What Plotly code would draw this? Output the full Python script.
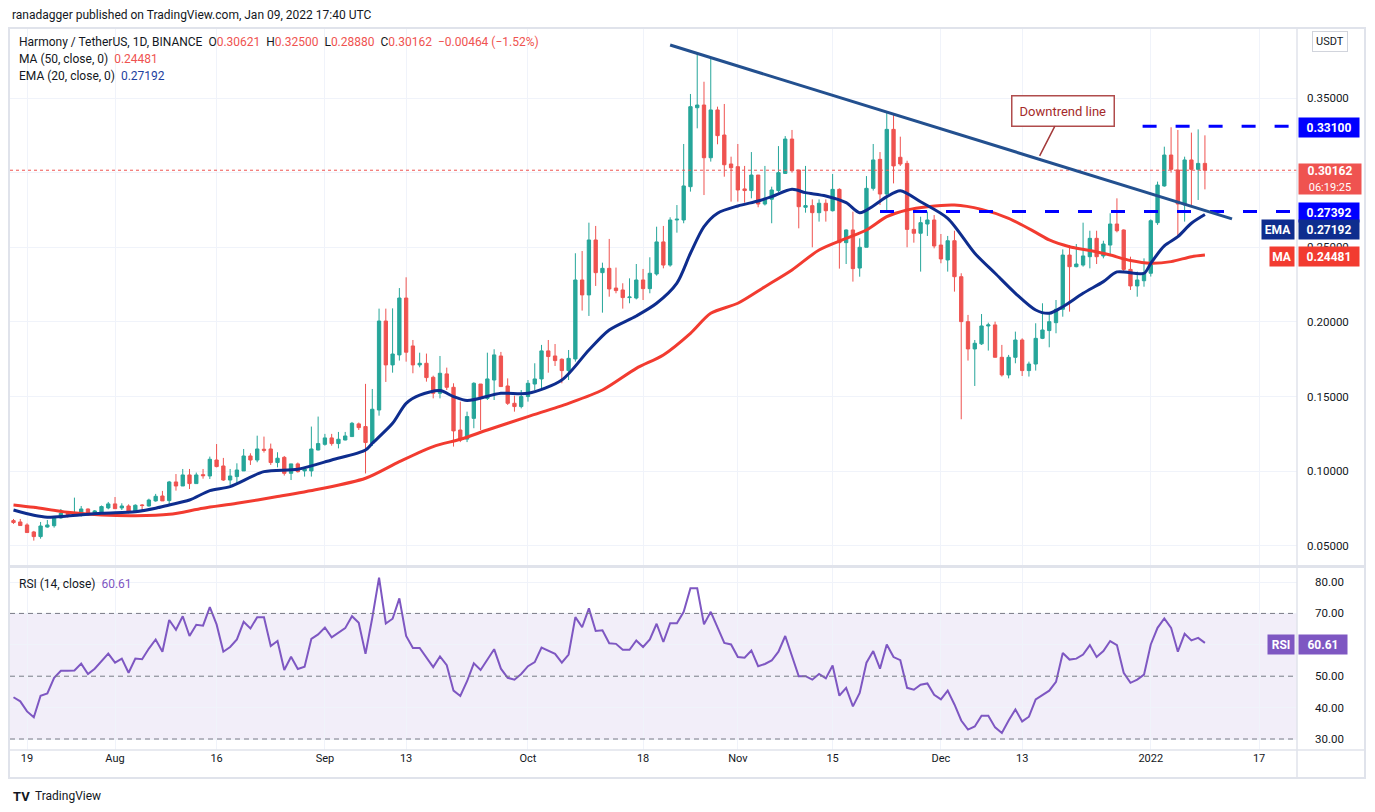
import pandas as pd
import plotly.graph_objects as go

# ONE/USDT daily candles, 17 Jul 2021 -> 9 Jan 2022
dates = pd.date_range("2021-07-17", periods=177, freq="D")

opens = [0.0669, 0.0660, 0.0640, 0.0593, 0.0562, 0.0626, 0.0635, 0.0687, 0.0716, 0.0710,
         0.0711, 0.0747, 0.0707, 0.0727, 0.0754, 0.0781, 0.0754, 0.0767, 0.0727, 0.0774,
         0.0767, 0.0801, 0.0834, 0.0803, 0.0928, 0.0901, 0.0975, 0.0917, 0.0977, 0.0968,
         0.1075, 0.1035, 0.0941, 0.0964, 0.1002, 0.1102, 0.1075, 0.1147, 0.1149, 0.1058,
         0.1093, 0.0986, 0.1049, 0.1002, 0.1002, 0.1142, 0.1180, 0.1223, 0.1185, 0.1209,
         0.1232, 0.1317, 0.1299, 0.1187, 0.1410, 0.2006, 0.1712, 0.1779, 0.2160, 0.1839,
         0.1712, 0.1723, 0.1629, 0.1522, 0.1652, 0.1562, 0.1276, 0.1215, 0.1354, 0.1584,
         0.1488, 0.1611, 0.1772, 0.1571, 0.1455, 0.1433, 0.1500, 0.1584, 0.1618, 0.1806,
         0.1772, 0.1750, 0.1674, 0.1752, 0.2281, 0.2181, 0.2549, 0.2330, 0.2359, 0.2227,
         0.2214, 0.2163, 0.2160, 0.2281, 0.2223, 0.2321, 0.2536, 0.2381, 0.2683, 0.2683,
         0.2906, 0.3435, 0.3453, 0.3100, 0.3420, 0.3252, 0.3058, 0.3040, 0.2891, 0.2880,
         0.2984, 0.2790, 0.2822, 0.2880, 0.2995, 0.3225, 0.3018, 0.2768, 0.2779, 0.2732,
         0.2795, 0.2745, 0.2888, 0.2531, 0.2616, 0.2361, 0.2500, 0.2895, 0.3089, 0.2857,
         0.3290, 0.3103, 0.3062, 0.2620, 0.2594, 0.2656, 0.2683, 0.2515, 0.2415, 0.2544,
         0.2303, 0.2002, 0.1819, 0.1853, 0.1973, 0.1980, 0.1763, 0.1645, 0.1763, 0.1879,
         0.1674, 0.1718, 0.1890, 0.1942, 0.1995, 0.2085, 0.2448, 0.2370, 0.2381, 0.2437,
         0.2560, 0.2442, 0.2515, 0.2656, 0.2616, 0.2352, 0.2241, 0.2276, 0.2326, 0.2665,
         0.2911, 0.3118, 0.3018, 0.2784, 0.3085, 0.3022, 0.30621]
highs = [0.0680, 0.0680, 0.0651, 0.0600, 0.0660, 0.0673, 0.0700, 0.0747, 0.0720, 0.0823,
         0.0767, 0.0750, 0.0740, 0.0770, 0.0794, 0.0827, 0.0785, 0.0778, 0.0778, 0.0780,
         0.0816, 0.0848, 0.0868, 0.0935, 0.0981, 0.1015, 0.1015, 0.0991, 0.1015, 0.1098,
         0.1182, 0.1089, 0.1015, 0.1053, 0.1149, 0.1120, 0.1238, 0.1232, 0.1185, 0.1127,
         0.1102, 0.1049, 0.1058, 0.1022, 0.1299, 0.1366, 0.1250, 0.1250, 0.1263, 0.1263,
         0.1330, 0.1326, 0.1585, 0.1551, 0.2089, 0.2089, 0.2091, 0.2227, 0.2299, 0.1879,
         0.1794, 0.1788, 0.1640, 0.1772, 0.1694, 0.1589, 0.1466, 0.1399, 0.1596, 0.1584,
         0.1794, 0.1817, 0.1799, 0.1622, 0.1506, 0.1544, 0.1611, 0.1723, 0.1846, 0.1879,
         0.1852, 0.1756, 0.1812, 0.2460, 0.2475, 0.2665, 0.2643, 0.2397, 0.2556, 0.2364,
         0.2259, 0.2292, 0.2388, 0.2355, 0.2433, 0.2638, 0.2643, 0.2701, 0.2783, 0.3192,
         0.3527, 0.3799, 0.3609, 0.3766, 0.3442, 0.3460, 0.3107, 0.3192, 0.3045, 0.3138,
         0.2984, 0.3045, 0.2906, 0.3178, 0.3245, 0.3286, 0.3018, 0.3045, 0.2821, 0.2821,
         0.2821, 0.2991, 0.2895, 0.2620, 0.2739, 0.2560, 0.2977, 0.3192, 0.3138, 0.3408,
         0.3386, 0.3241, 0.3080, 0.2739, 0.2705, 0.2739, 0.2716, 0.2589, 0.2576, 0.2611,
         0.2326, 0.2047, 0.1879, 0.2053, 0.1995, 0.2002, 0.1846, 0.1779, 0.1935, 0.1890,
         0.1734, 0.1991, 0.2125, 0.2062, 0.2147, 0.2486, 0.2515, 0.2522, 0.2665, 0.2611,
         0.2611, 0.2544, 0.2728, 0.2828, 0.2620, 0.2437, 0.2337, 0.2426, 0.2687, 0.2940,
         0.3174, 0.3304, 0.3286, 0.3107, 0.3268, 0.3290, 0.32500]
lows = [0.0647, 0.0635, 0.0589, 0.0535, 0.0548, 0.0622, 0.0622, 0.0682, 0.0690, 0.0707,
        0.0696, 0.0700, 0.0702, 0.0718, 0.0745, 0.0749, 0.0740, 0.0718, 0.0723, 0.0736,
        0.0763, 0.0796, 0.0801, 0.0774, 0.0870, 0.0901, 0.0881, 0.0917, 0.0950, 0.0948,
        0.1026, 0.0935, 0.0908, 0.0919, 0.1002, 0.1042, 0.1060, 0.1125, 0.1042, 0.1026,
        0.0971, 0.0941, 0.0991, 0.0964, 0.0964, 0.1140, 0.1171, 0.1171, 0.1153, 0.1207,
        0.1232, 0.1276, 0.0985, 0.1169, 0.1372, 0.1598, 0.1660, 0.1741, 0.1734, 0.1656,
        0.1696, 0.1600, 0.1488, 0.1488, 0.1544, 0.1165, 0.1195, 0.1195, 0.1288, 0.1276,
        0.1477, 0.1477, 0.1567, 0.1444, 0.1399, 0.1421, 0.1466, 0.1544, 0.1544, 0.1660,
        0.1705, 0.1589, 0.1611, 0.1734, 0.2076, 0.2040, 0.2241, 0.2062, 0.2169, 0.2192,
        0.2089, 0.2125, 0.2151, 0.2147, 0.2192, 0.2310, 0.2359, 0.2370, 0.2598, 0.2661,
        0.2873, 0.3297, 0.2850, 0.3074, 0.3190, 0.2973, 0.2806, 0.2806, 0.2799, 0.2828,
        0.2768, 0.2780, 0.2661, 0.2870, 0.2991, 0.3000, 0.2627, 0.2732, 0.2500, 0.2672,
        0.2672, 0.2740, 0.2357, 0.2388, 0.2270, 0.2303, 0.2500, 0.2880, 0.2783, 0.2739,
        0.2928, 0.3045, 0.2500, 0.2531, 0.2337, 0.2576, 0.2493, 0.2393, 0.2337, 0.2203,
        0.1348, 0.1741, 0.1571, 0.1846, 0.1808, 0.1763, 0.1634, 0.1622, 0.1723, 0.1638,
        0.1634, 0.1674, 0.1885, 0.1830, 0.1924, 0.2035, 0.2069, 0.2366, 0.2370, 0.2359,
        0.2388, 0.2426, 0.2448, 0.2600, 0.2330, 0.2214, 0.2169, 0.2236, 0.2304, 0.2650,
        0.2906, 0.3000, 0.2571, 0.2672, 0.2772, 0.2817, 0.28880]
closes = [0.0656, 0.0636, 0.0589, 0.0562, 0.0633, 0.0640, 0.0696, 0.0718, 0.0710, 0.0715,
          0.0747, 0.0707, 0.0734, 0.0763, 0.0781, 0.0749, 0.0767, 0.0729, 0.0772, 0.0770,
          0.0807, 0.0832, 0.0801, 0.0928, 0.0901, 0.0975, 0.0917, 0.0975, 0.0970, 0.1080,
          0.1031, 0.0941, 0.0968, 0.1008, 0.1102, 0.1075, 0.1149, 0.1140, 0.1058, 0.1087,
          0.0986, 0.1049, 0.0997, 0.1015, 0.1149, 0.1185, 0.1223, 0.1185, 0.1214, 0.1236,
          0.1321, 0.1292, 0.1192, 0.1415, 0.2006, 0.1712, 0.1785, 0.2160, 0.1797, 0.1712,
          0.1723, 0.1627, 0.1522, 0.1656, 0.1562, 0.1270, 0.1209, 0.1366, 0.1589, 0.1495,
          0.1618, 0.1779, 0.1567, 0.1455, 0.1433, 0.1500, 0.1589, 0.1618, 0.1806, 0.1768,
          0.1741, 0.1674, 0.1756, 0.2281, 0.2181, 0.2549, 0.2330, 0.2359, 0.2221, 0.2210,
          0.2163, 0.2167, 0.2281, 0.2223, 0.2326, 0.2536, 0.2381, 0.2683, 0.2688, 0.2911,
          0.3442, 0.3453, 0.3100, 0.3420, 0.3248, 0.3053, 0.3033, 0.2884, 0.2880, 0.2984,
          0.2790, 0.2828, 0.2884, 0.3000, 0.3225, 0.3013, 0.2772, 0.2779, 0.2732, 0.2795,
          0.2745, 0.2888, 0.2531, 0.2616, 0.2357, 0.2500, 0.2895, 0.3085, 0.2857, 0.3290,
          0.3045, 0.3058, 0.2620, 0.2594, 0.2665, 0.2683, 0.2509, 0.2422, 0.2544, 0.2303,
          0.2002, 0.1819, 0.1857, 0.1973, 0.1980, 0.1763, 0.1645, 0.1763, 0.1879, 0.1674,
          0.1718, 0.1890, 0.1946, 0.2002, 0.2085, 0.2448, 0.2370, 0.2388, 0.2442, 0.2560,
          0.2437, 0.2522, 0.2656, 0.2611, 0.2352, 0.2241, 0.2281, 0.2330, 0.2678, 0.2917,
          0.3118, 0.3022, 0.2790, 0.3085, 0.3022, 0.3062, 0.30162]

rsi = [43.3, 42.0, 38.8, 36.9, 43.8, 44.5, 49.5, 51.7, 51.7, 51.8,
       54.0, 50.7, 52.4, 54.8, 57.2, 54.3, 55.6, 51.1, 55.6, 55.4,
       58.8, 61.7, 57.8, 67.9, 64.8, 69.1, 62.8, 66.4, 66.1, 72.0,
       66.5, 57.8, 59.3, 61.7, 67.3, 65.2, 68.8, 68.8, 59.6, 61.2,
       52.0, 56.2, 52.3, 53.0, 61.9, 63.3, 65.5, 62.4, 64.0, 65.3,
       69.1, 67.0, 57.1, 68.6, 81.4, 66.8, 68.3, 74.8, 62.8, 59.0,
       59.0, 55.9, 52.9, 56.3, 53.5, 45.4, 43.7, 48.4, 54.1, 52.0,
       55.3, 58.6, 52.4, 49.5, 48.9, 50.7, 53.2, 54.5, 59.1, 58.0,
       57.1, 54.3, 56.9, 68.8, 65.6, 71.6, 64.4, 64.6, 60.5, 60.3,
       58.4, 58.4, 61.4, 59.3, 61.7, 66.7, 60.9, 66.9, 66.9, 70.5,
       78.0, 78.0, 66.5, 70.5, 65.4, 60.6, 60.1, 56.1, 55.9, 58.2,
       53.2, 53.9, 55.0, 57.8, 62.8, 56.7, 50.0, 50.0, 48.9, 50.7,
       49.3, 53.4, 43.8, 46.3, 40.4, 44.7, 54.3, 58.0, 52.4, 60.1,
       56.1, 55.1, 46.3, 45.7, 47.3, 47.7, 44.1, 42.6, 45.4, 41.0,
       35.9, 33.0, 34.0, 37.4, 37.4, 33.7, 31.9, 35.9, 39.4, 35.6,
       37.1, 42.6, 43.9, 45.4, 48.2, 57.4, 55.3, 55.6, 56.9, 59.9,
       56.1, 58.0, 61.2, 59.9, 51.1, 47.9, 48.9, 50.5, 60.1, 65.4,
       68.4, 65.4, 57.8, 63.5, 61.4, 62.2, 60.61]

# EMA(20) and MA(50) read at points along their curves (day index, value)
ema_days = [0, 3, 5, 8, 13, 18, 21, 23, 26, 29, 32, 37, 42, 47, 52, 53, 56, 58, 60, 63,
            65, 67, 72, 76, 81, 85, 88, 92, 95, 98, 100, 102, 104, 107, 110, 112, 115, 117, 120, 123,
            125, 127, 129, 131, 134, 138, 142, 145, 148, 151, 153, 155, 158, 161, 163, 167, 168, 170, 172, 174,
            176]
ema_vals = [0.0740, 0.0705, 0.0692, 0.0700, 0.0718, 0.0729, 0.0752, 0.0774, 0.0807, 0.0870,
            0.0897, 0.0997, 0.1013, 0.1075, 0.1142, 0.1187, 0.1321, 0.1455, 0.1510, 0.1540,
            0.1500, 0.1473, 0.1522, 0.1522, 0.1611, 0.1812, 0.1946, 0.2040, 0.2125, 0.2260,
            0.2460, 0.2638, 0.2728, 0.2777, 0.2810, 0.2839, 0.2888, 0.2866, 0.2844, 0.2799,
            0.2732, 0.2777, 0.2839, 0.2879, 0.2805, 0.2694, 0.2460, 0.2326, 0.2192, 0.2080,
            0.2058, 0.2102, 0.2192, 0.2270, 0.2335, 0.2326, 0.2393, 0.2509, 0.2571, 0.2661,
            0.27192]
ma_days = [0, 3, 8, 13, 18, 23, 28, 33, 39, 45, 52, 57, 62, 66, 70, 76, 82, 87, 92, 96,
           100, 103, 107, 111, 115, 119, 123, 126, 129, 132, 135, 139, 143, 147, 151, 153, 156, 159, 162, 165,
           168, 171, 174, 176]
ma_vals = [0.0774, 0.0758, 0.0725, 0.0707, 0.0702, 0.0711, 0.0752, 0.0785, 0.0830, 0.0879,
           0.0953, 0.1064, 0.1165, 0.1214, 0.1276, 0.1366, 0.1455, 0.1544, 0.1689, 0.1779,
           0.1924, 0.2058, 0.2125, 0.2236, 0.2348, 0.2482, 0.2560, 0.2616, 0.2705, 0.2750,
           0.2772, 0.2783, 0.2754, 0.2694, 0.2600, 0.2549, 0.2504, 0.2478, 0.2448, 0.2411,
           0.2393, 0.2404, 0.2437, 0.24481]

tick_dates = ["2021-07-19", "2021-08-01", "2021-08-16", "2021-09-01", "2021-09-13", "2021-10-01",
              "2021-10-18", "2021-11-01", "2021-11-15", "2021-12-01", "2021-12-13", "2022-01-01",
              "2022-01-17"]
tick_text = ["19", "Aug", "16", "Sep", "13", "Oct", "18", "Nov", "15", "Dec", "13", "2022", "17"]
price_ticks = [0.05, 0.10, 0.15, 0.20, 0.25, 0.30, 0.35]
price_tick_text = ["0.05000", "0.10000", "0.15000", "0.20000", "0.25000", "", "0.35000"]
rsi_ticks = [30, 40, 50, 60, 70, 80]
rsi_tick_text = ["30.00", "40.00", "50.00", "", "70.00", "80.00"]

resistance = 0.33100
support = 0.27392
last_close = 0.30162
ema_last = 0.27192
ma_last = 0.24481
rsi_last = 60.61
trend_start = ("2021-10-22", 0.3855)
trend_end = ("2022-01-13", 0.2690)
callout_point = ("2021-12-15 14:00", 0.3112)

x_range = ["2021-07-16 11:35", "2022-01-22 14:24"]

# layout in screenshot pixels; the page body adds an 8px margin, so the figure is offset by it
OFF = 8
W, H = 1375 - 2 * OFF, 812 - 2 * OFF
PL, PR, PT, PB = 10, 1297, 28, 750          # plot area edges in screenshot pixels


def fx(px):
    return (px - PL) / (PR - PL)


def fy(py):
    return (PB - py) / (PB - PT)


GREEN = "#26a69a"
RED = "#ef5350"
EMA_C = "#0e2d8e"
MA_C = "#f23b30"
PURPLE = "#7e57c2"
GRID = "#f0f3fa"
TXT = "#131722"
FONT = "Roboto"

fig = go.Figure()

fig.add_trace(go.Candlestick(
    x=dates, open=opens, high=highs, low=lows, close=closes,
    increasing=dict(line=dict(color=GREEN, width=1), fillcolor=GREEN),
    decreasing=dict(line=dict(color=RED, width=1), fillcolor=RED),
    whiskerwidth=0, hoverinfo="skip", xaxis="x", yaxis="y"))

fig.add_trace(go.Scatter(
    x=[dates[i] for i in ma_days], y=ma_vals, mode="lines",
    line=dict(color=MA_C, width=3, shape="spline", smoothing=0.8),
    hoverinfo="skip", xaxis="x", yaxis="y"))
fig.add_trace(go.Scatter(
    x=[dates[i] for i in ema_days], y=ema_vals, mode="lines",
    line=dict(color=EMA_C, width=3, shape="spline", smoothing=0.8),
    hoverinfo="skip", xaxis="x", yaxis="y"))

fig.add_trace(go.Scatter(
    x=dates, y=rsi, mode="lines", line=dict(color=PURPLE, width=2),
    hoverinfo="skip", xaxis="x2", yaxis="y2"))

shapes = []
# RSI band and levels
shapes.append(dict(type="rect", xref="x2 domain", yref="y2", x0=0, x1=1, y0=30, y1=70,
                   fillcolor="rgba(126,87,194,0.10)", line=dict(width=0), layer="below"))
for lvl in [30, 50, 70]:
    shapes.append(dict(type="line", xref="x2 domain", yref="y2", x0=0, x1=1, y0=lvl, y1=lvl,
                       line=dict(color="#787b86", width=1, dash="5px,4px")))
# last price dotted line
shapes.append(dict(type="line", xref="x domain", yref="y", x0=0, x1=1, y0=last_close, y1=last_close,
                   line=dict(color=RED, width=1, dash="dot")))
# horizontal levels
shapes.append(dict(type="line", xref="x", yref="y", x0="2021-12-30 19:00", x1=x_range[1],
                   y0=resistance, y1=resistance, line=dict(color="#0000ff", width=3, dash="14px,19px")))
shapes.append(dict(type="line", xref="x", yref="y", x0="2021-11-22", x1=x_range[1],
                   y0=support, y1=support, line=dict(color="#0000ff", width=3, dash="14px,19px")))
# downtrend line
shapes.append(dict(type="line", xref="x", yref="y", x0=trend_start[0], y0=trend_start[1],
                   x1=trend_end[0], y1=trend_end[1], line=dict(color="#23508f", width=3)))
# frame and separators
frame = "#e0e3eb"
shapes.append(dict(type="rect", xref="paper", yref="paper", x0=fx(9), x1=fx(1365), y0=fy(28), y1=fy(778),
                   line=dict(color=frame, width=2)))
shapes.append(dict(type="line", xref="paper", yref="paper", x0=fx(9), x1=fx(1365), y0=fy(566.5), y1=fy(566.5),
                   line=dict(color=frame, width=3)))
shapes.append(dict(type="line", xref="paper", yref="paper", x0=fx(9), x1=fx(1365), y0=fy(750), y1=fy(750),
                   line=dict(color=frame, width=1.5)))
shapes.append(dict(type="line", xref="paper", yref="paper", x0=fx(1297), x1=fx(1297), y0=fy(28), y1=fy(778),
                   line=dict(color=frame, width=1.5)))

ann = []
ann.append(dict(xref="paper", yref="paper", x=fx(10), y=fy(15), xanchor="left", yanchor="middle",
                text="ranadagger published on TradingView.com, Jan 09, 2022 17:40 UTC",
                showarrow=False, font=dict(size=12, color=TXT)))
r = lambda s: "<span style='color:%s'>%s</span>" % (RED, s)
ann.append(dict(xref="paper", yref="paper", x=fx(17), y=fy(42), xanchor="left", yanchor="middle",
                text="Harmony / TetherUS, 1D, BINANCE  O" + r("0.30621") + "  H" + r("0.32500") +
                     "  L" + r("0.28880") + "  C" + r("0.30162") + "  " + r("−0.00464 (−1.52%)"),
                showarrow=False, font=dict(size=12, color=TXT)))
ann.append(dict(xref="paper", yref="paper", x=fx(17), y=fy(59), xanchor="left", yanchor="middle",
                text="MA (50, close, 0)  " + r("%.5f" % ma_last),
                showarrow=False, font=dict(size=12, color=TXT)))
ann.append(dict(xref="paper", yref="paper", x=fx(17), y=fy(76), xanchor="left", yanchor="middle",
                text="EMA (20, close, 0)  <span style='color:#1e3fa0'>%.5f</span>" % ema_last,
                showarrow=False, font=dict(size=12, color=TXT)))
ann.append(dict(xref="paper", yref="paper", x=fx(17), y=fy(584), xanchor="left", yanchor="middle",
                text="RSI (14, close)  <span style='color:%s'>%.2f</span>" % (PURPLE, rsi_last),
                showarrow=False, font=dict(size=12, color=TXT)))

# callout on the trend line
ann.append(dict(xref="x", yref="y", x=callout_point[0], y=callout_point[1],
                text="Downtrend line", showarrow=True, arrowhead=0, arrowwidth=1.5,
                arrowcolor="#a33a3a", ax=23, ay=-45, bgcolor="white", bordercolor="#b04c4c",
                borderwidth=1.5, borderpad=7, font=dict(size=13, color="#a52a2a")))


def axis_label(py, text, bg, w=56):
    ann.append(dict(xref="paper", yref="paper", x=fx(1298), y=fy(py), xanchor="left", yanchor="middle",
                    text="<b>%s</b>" % text, showarrow=False, bgcolor=bg, width=w, height=15,
                    borderpad=2, font=dict(size=12, color="white"), align="center"))


def side_tag(py, text, bg, w):
    ann.append(dict(xref="paper", yref="paper", x=fx(1295), y=fy(py), xanchor="right", yanchor="middle",
                    text="<b>%s</b>" % text, showarrow=False, bgcolor=bg, width=w, height=15,
                    borderpad=2, font=dict(size=12, color="white"), align="center"))


# axis tags (TradingView nudges them apart so they do not collide)
axis_label(127, "%.5f" % resistance, "#0000ff")
axis_label(212, "%.5f" % support, "#0000ff")
axis_label(229, "%.5f" % ema_last, EMA_C)
side_tag(229, "EMA", EMA_C, 28)
axis_label(257, "%.5f" % ma_last, MA_C)
side_tag(257, "MA", MA_C, 20)
axis_label(644, "%.2f" % rsi_last, PURPLE, w=44)
side_tag(644, "RSI", PURPLE, 22)
ann.append(dict(xref="paper", yref="paper", x=fx(1298), y=fy(163), xanchor="left", yanchor="top",
                text="<b>%.5f</b><br><span style='font-size:11px'>06:19:25</span>" % last_close,
                showarrow=False, bgcolor=RED, width=58, height=26, borderpad=2,
                font=dict(size=12, color="white"), align="center"))
ann.append(dict(xref="paper", yref="paper", x=fx(1330), y=fy(41), xanchor="center", yanchor="middle",
                text="USDT", showarrow=False, bordercolor="#d1d4dc", borderwidth=1, borderpad=3,
                bgcolor="white", font=dict(size=11, color=TXT)))
ann.append(dict(xref="paper", yref="paper", x=fx(11), y=fy(796), xanchor="left", yanchor="middle",
                text="<b>TV</b>", showarrow=False, font=dict(size=13, color=TXT)))
ann.append(dict(xref="paper", yref="paper", x=fx(33), y=fy(796), xanchor="left", yanchor="middle",
                text="TradingView", showarrow=False, font=dict(size=12, color=TXT)))

fig.update_layout(
    width=W, height=H,
    margin=dict(l=PL - OFF, r=W - (PR - OFF), t=PT - OFF, b=H - (PB - OFF)),
    paper_bgcolor="white", plot_bgcolor="white", showlegend=False, hovermode=False,
    font=dict(family=FONT, color=TXT),
    shapes=shapes, annotations=ann,
    xaxis=dict(type="date", range=x_range, domain=[0, 1], anchor="y", rangeslider=dict(visible=False),
               tickvals=tick_dates, showticklabels=False, showgrid=True, gridcolor=GRID,
               zeroline=False, showline=False, ticks=""),
    xaxis2=dict(type="date", range=x_range, domain=[0, 1], anchor="y2", matches="x",
                tickvals=tick_dates, ticktext=tick_text, showgrid=True, gridcolor=GRID,
                tickfont=dict(size=11, color=TXT), ticks="", zeroline=False, showline=False),
    yaxis=dict(domain=[fy(566), 1], range=[0.0365, 0.3969], side="right", anchor="x",
               tickvals=price_ticks, ticktext=price_tick_text, showgrid=True, gridcolor=GRID,
               tickfont=dict(size=11.5, color=TXT), ticks="", zeroline=False, showline=False,
               ticklabelstandoff=9),
    yaxis2=dict(domain=[0, fy(568)], range=[26.5, 84.46], side="right", anchor="x2",
                tickvals=rsi_ticks, ticktext=rsi_tick_text,
                showgrid=True, gridcolor=GRID, tickfont=dict(size=11.5, color=TXT), ticks="",
                zeroline=False, showline=False, ticklabelstandoff=17),
)

fig.write_html("out.html")
